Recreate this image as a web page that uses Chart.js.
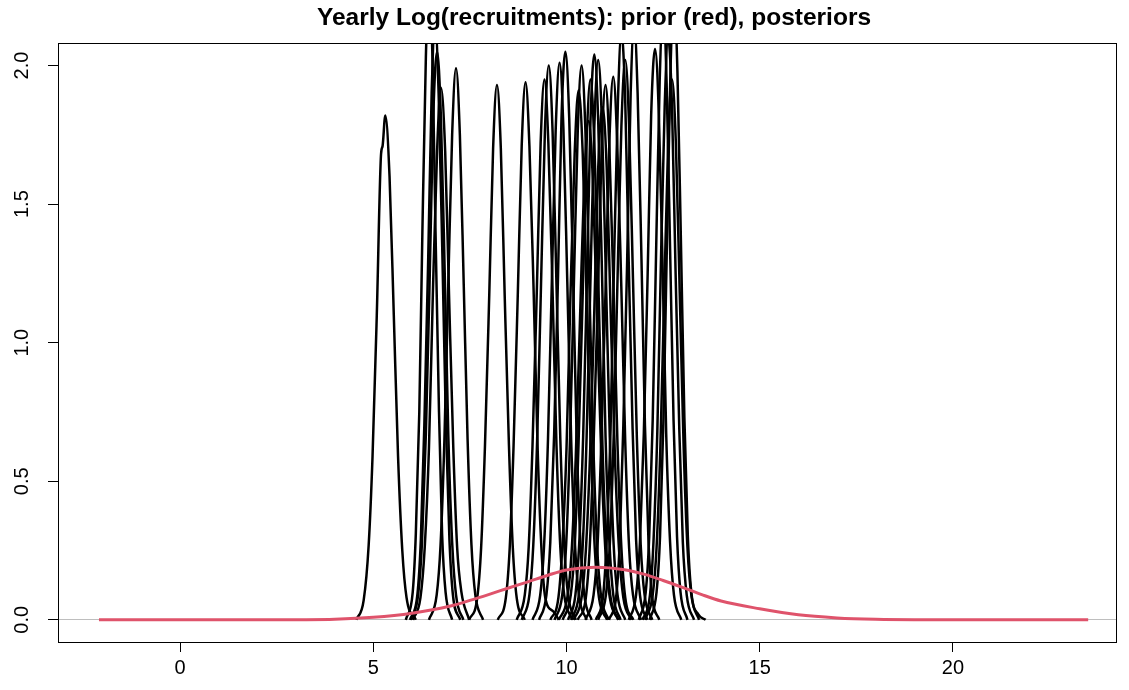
<!DOCTYPE html>
<html>
<head>
<meta charset="utf-8">
<script src="https://cdn.jsdelivr.net/npm/chart.js@4.4.1/dist/chart.umd.min.js"></script>
<style>
  html, body { margin: 0; padding: 0; background: #fff; }
  #wrap { width: 1129px; height: 690px; }
</style>
</head>
<body>
<div id="wrap"><canvas id="grafica" width="1129" height="690"></canvas></div>
<script>
// Prior (red)
const priorX = [-2.1, 0, 2, 3, 4, 5, 6, 7, 7.5, 8, 8.5, 9, 9.5, 10, 10.75, 11.5, 12, 12.5, 13, 13.5, 14, 15, 16, 17, 18, 19, 23.5];
const priorY = [0, 0, 0, 0.0005, 0.002, 0.009, 0.024, 0.05, 0.07, 0.092, 0.115, 0.137, 0.16, 0.18, 0.19, 0.181, 0.165, 0.142, 0.117, 0.091, 0.068, 0.04, 0.018, 0.007, 0.002, 0.0005, 0];

// Posteriors (black), one row per year
const posteriorX = [
  [4.56, 4.75, 4.88, 4.98, 5.09, 5.2, 5.24, 5.31, 5.42, 5.53, 5.64, 5.75, 5.86, 6.1],
  [5.84, 6.02, 6.10, 6.19, 6.27, 6.36, 6.44, 6.53, 6.61, 6.70, 6.78, 6.87, 7.04],
  [5.95, 6.14, 6.23, 6.32, 6.42, 6.51, 6.60, 6.69, 6.79, 6.88, 6.97, 7.06, 7.25],
  [5.97, 6.16, 6.26, 6.36, 6.46, 6.55, 6.65, 6.75, 6.85, 6.94, 7.04, 7.14, 7.33],
  [6.02, 6.22, 6.33, 6.44, 6.54, 6.65, 6.75, 6.86, 6.96, 7.07, 7.17, 7.28, 7.48],
  [6.44, 6.64, 6.74, 6.84, 6.94, 7.04, 7.14, 7.24, 7.34, 7.44, 7.54, 7.64, 7.84],
  [7.48, 7.69, 7.79, 7.89, 8.0, 8.1, 8.2, 8.3, 8.4, 8.51, 8.61, 8.71, 8.92],
  [8.22, 8.43, 8.53, 8.63, 8.74, 8.84, 8.94, 9.04, 9.15, 9.25, 9.35, 9.45, 9.66, 9.8],
  [8.71, 8.92, 9.02, 9.12, 9.23, 9.33, 9.43, 9.53, 9.64, 9.74, 9.84, 9.94, 10.15],
  [8.84, 9.04, 9.14, 9.24, 9.34, 9.44, 9.54, 9.64, 9.74, 9.84, 9.94, 10.04, 10.24],
  [9.12, 9.32, 9.42, 9.52, 9.62, 9.72, 9.82, 9.92, 10.02, 10.12, 10.22, 10.32, 10.52],
  [9.29, 9.48, 9.58, 9.68, 9.78, 9.87, 9.97, 10.07, 10.17, 10.26, 10.36, 10.46, 10.65],
  [9.58, 9.79, 9.89, 10.0, 10.1, 10.21, 10.31, 10.42, 10.52, 10.63, 10.73, 10.84, 11.05],
  [9.69, 9.89, 9.99, 10.09, 10.19, 10.29, 10.39, 10.49, 10.59, 10.69, 10.79, 10.89, 11.09],
  [9.9, 10.11, 10.21, 10.31, 10.42, 10.52, 10.62, 10.72, 10.83, 10.93, 11.03, 11.13, 11.34],
  [10.04, 10.23, 10.33, 10.43, 10.53, 10.62, 10.72, 10.82, 10.92, 11.01, 11.11, 11.21, 11.4],
  [10.12, 10.32, 10.42, 10.52, 10.62, 10.72, 10.82, 10.92, 11.02, 11.12, 11.22, 11.32, 11.52],
  [10.29, 10.5, 10.6, 10.7, 10.81, 10.91, 11.01, 11.11, 11.22, 11.32, 11.42, 11.52, 11.73],
  [10.49, 10.7, 10.8, 10.9, 11.01, 11.11, 11.21, 11.31, 11.42, 11.52, 11.62, 11.72, 11.93],
  [10.76, 10.95, 11.04, 11.14, 11.23, 11.33, 11.42, 11.52, 11.61, 11.71, 11.8, 11.9, 12.09],
  [10.82, 11.02, 11.12, 11.22, 11.32, 11.42, 11.52, 11.62, 11.72, 11.82, 11.92, 12.02, 12.22],
  [11.1, 11.29, 11.38, 11.47, 11.57, 11.66, 11.75, 11.84, 11.94, 12.03, 12.12, 12.21, 12.4],
  [11.61, 11.8, 11.9, 12.0, 12.1, 12.19, 12.29, 12.39, 12.49, 12.58, 12.68, 12.78, 12.97],
  [11.87, 12.05, 12.14, 12.23, 12.32, 12.41, 12.5, 12.59, 12.68, 12.77, 12.86, 12.95, 13.13],
  [11.97, 12.16, 12.25, 12.35, 12.44, 12.54, 12.63, 12.73, 12.82, 12.92, 13.01, 13.11, 13.3],
  [12.15, 12.33, 12.42, 12.51, 12.6, 12.69, 12.78, 12.87, 12.96, 13.05, 13.14, 13.23, 13.41, 13.6],
  [12.03, 12.23, 12.33, 12.43, 12.53, 12.63, 12.73, 12.83, 12.93, 13.03, 13.13, 13.23, 13.43],
  [10.18, 10.39, 10.5, 10.61, 10.72, 10.82, 10.93, 11.04, 11.14, 11.25, 11.36, 11.47, 11.68],
  [9.8, 10.02, 10.13, 10.24, 10.35, 10.46, 10.57, 10.68, 10.79, 10.9, 11.01, 11.12, 11.34]
];
const posteriorY = [
  [0, 0.07, 0.27, 0.59, 1.1, 1.68, 1.71, 1.82, 1.6, 1.1, 0.59, 0.25, 0.08, 0],
  [0, 0.1, 0.31, 0.75, 1.4, 2.03, 2.3, 2.03, 1.4, 0.75, 0.31, 0.1, 0],
  [0, 0.09, 0.29, 0.7, 1.3, 1.9, 2.15, 1.9, 1.3, 0.7, 0.29, 0.09, 0],
  [0, 0.09, 0.28, 0.67, 1.24, 1.81, 2.05, 1.81, 1.24, 0.67, 0.28, 0.09, 0],
  [0, 0.08, 0.26, 0.62, 1.17, 1.69, 1.92, 1.69, 1.17, 0.62, 0.26, 0.1, 0],
  [0, 0.09, 0.27, 0.65, 1.21, 1.75, 1.99, 1.75, 1.21, 0.65, 0.27, 0.09, 0],
  [0, 0.08, 0.26, 0.63, 1.17, 1.7, 1.93, 1.7, 1.17, 0.63, 0.26, 0.08, 0],
  [0, 0.08, 0.26, 0.63, 1.18, 1.71, 1.94, 1.71, 1.18, 0.63, 0.26, 0.08, 0.03, 0],
  [0, 0.09, 0.26, 0.63, 1.18, 1.72, 1.95, 1.72, 1.18, 0.63, 0.26, 0.09, 0],
  [0, 0.09, 0.27, 0.65, 1.21, 1.76, 2.0, 1.76, 1.21, 0.65, 0.27, 0.09, 0],
  [0, 0.09, 0.27, 0.65, 1.22, 1.77, 2.01, 1.77, 1.22, 0.65, 0.27, 0.09, 0],
  [0, 0.09, 0.28, 0.67, 1.24, 1.81, 2.05, 1.81, 1.24, 0.67, 0.28, 0.09, 0],
  [0, 0.08, 0.26, 0.62, 1.16, 1.68, 1.91, 1.68, 1.16, 0.62, 0.26, 0.08, 0],
  [0, 0.09, 0.27, 0.65, 1.21, 1.76, 2.0, 1.76, 1.21, 0.65, 0.27, 0.09, 0],
  [0, 0.09, 0.26, 0.63, 1.18, 1.72, 1.95, 1.72, 1.18, 0.63, 0.26, 0.09, 0],
  [0, 0.09, 0.28, 0.66, 1.24, 1.8, 2.04, 1.8, 1.24, 0.66, 0.28, 0.09, 0],
  [0, 0.09, 0.27, 0.66, 1.23, 1.78, 2.02, 1.78, 1.23, 0.66, 0.27, 0.09, 0],
  [0, 0.08, 0.26, 0.63, 1.17, 1.7, 1.93, 1.7, 1.17, 0.63, 0.26, 0.08, 0],
  [0, 0.09, 0.26, 0.64, 1.19, 1.73, 1.96, 1.73, 1.19, 0.64, 0.26, 0.09, 0],
  [0, 0.09, 0.29, 0.69, 1.29, 1.87, 2.12, 1.87, 1.29, 0.69, 0.29, 0.09, 0],
  [0, 0.09, 0.27, 0.66, 1.23, 1.78, 2.02, 1.78, 1.23, 0.66, 0.27, 0.09, 0],
  [0, 0.09, 0.29, 0.7, 1.3, 1.9, 2.15, 1.9, 1.3, 0.7, 0.29, 0.09, 0],
  [0, 0.09, 0.28, 0.67, 1.25, 1.82, 2.06, 1.82, 1.25, 0.67, 0.28, 0.09, 0],
  [0, 0.1, 0.3, 0.72, 1.34, 1.94, 2.2, 1.94, 1.34, 0.72, 0.3, 0.1, 0],
  [0, 0.09, 0.28, 0.68, 1.27, 1.85, 2.1, 1.85, 1.27, 0.68, 0.28, 0.09, 0],
  [0, 0.1, 0.3, 0.73, 1.37, 1.98, 2.25, 1.98, 1.37, 0.73, 0.3, 0.1, 0.02, 0],
  [0, 0.09, 0.26, 0.63, 1.18, 1.72, 1.95, 1.72, 1.18, 0.63, 0.26, 0.09, 0],
  [0, 0.08, 0.25, 0.6, 1.12, 1.63, 1.85, 1.63, 1.12, 0.6, 0.25, 0.08, 0],
  [0, 0.08, 0.24, 0.59, 1.09, 1.59, 1.8, 1.59, 1.09, 0.59, 0.24, 0.08, 0]
];

// Ejes
const xTickValues = [0, 5, 10, 15, 20];
const xTickLabels = ['0', '5', '10', '15', '20'];
const yTickValues = [0, 0.5, 1, 1.5, 2];
const yTickLabels = ['0.0', '0.5', '1.0', '1.5', '2.0'];

const toPoints = (xs, ys) => xs.map((x, i) => ({ x: x, y: ys[i] }));

const datasets = [{
    data: toPoints(priorX, priorY),
    borderColor: '#DF536B',
    borderWidth: 3
}];
posteriorX.forEach((xs, k) => {
    datasets.push({
        data: toPoints(xs, posteriorY[k]),
        borderColor: '#000000',
        borderWidth: 2.5
    });
});

// Caja alrededor del área de la gráfica y título centrado como en R
const plotBox = {
    id: 'plotBox',
    afterLayout(chart) {
        if (chart.titleBlock) {
            chart.titleBlock.left = 72;
            chart.titleBlock.right = chart.chartArea.right;
        }
    },
    afterDraw(chart) {
        const a = chart.chartArea;
        const ctx = chart.ctx;
        ctx.save();
        ctx.strokeStyle = '#000';
        ctx.lineWidth = 1;
        ctx.strokeRect(Math.round(a.left) + 0.5, Math.round(a.top) + 0.5,
            Math.round(a.right - a.left), Math.round(a.bottom - a.top));
        ctx.restore();
    }
};

Chart.defaults.font.family = '"Liberation Sans", Arial, sans-serif';
Chart.defaults.color = '#000';

new Chart(document.getElementById('grafica').getContext('2d'), {
    type: 'line',
    data: { datasets: datasets },
    options: {
        responsive: false,
        animation: false,
        devicePixelRatio: 1,
        layout: { padding: { right: 13, top: 0, left: 0, bottom: 0 } },
        elements: {
            point: { radius: 0 },
            line: { cubicInterpolationMode: 'monotone', fill: false, borderJoinStyle: 'round' }
        },
        datasets: { line: { clip: 0 } },
        plugins: {
            legend: { display: false },
            tooltip: { enabled: false },
            title: {
                display: true,
                text: 'Yearly Log(recruitments): prior (red), posteriors',
                font: { size: 24.5, weight: 'bold' },
                color: '#000',
                padding: { top: 4, bottom: 10 }
            }
        },
        scales: {
            x: {
                type: 'linear',
                min: -3.16,
                max: 24.22,
                afterBuildTicks: s => { s.ticks = xTickValues.map(v => ({ value: v })); },
                afterFit: s => { s.height = 48; },
                border: { display: false },
                grid: { color: 'rgba(0,0,0,0)', tickColor: '#000', tickLength: 10, drawOnChartArea: false },
                ticks: {
                    font: { size: 20 },
                    padding: 4,
                    maxRotation: 0,
                    callback: (v, i) => xTickLabels[i]
                }
            },
            y: {
                type: 'linear',
                min: -0.08,
                max: 2.08,
                afterBuildTicks: s => { s.ticks = yTickValues.map(v => ({ value: v })); },
                afterFit: s => { s.width = 58; },
                border: { display: false },
                grid: {
                    color: c => (c.tick && c.tick.value === 0) ? '#bebebe' : 'rgba(0,0,0,0)',
                    tickColor: '#000',
                    tickLength: 10,
                    lineWidth: 1
                },
                ticks: {
                    font: { size: 20 },
                    minRotation: 90,
                    maxRotation: 90,
                    crossAlign: 'center',
                    padding: 12,
                    callback: (v, i) => yTickLabels[i]
                }
            }
        }
    },
    plugins: [plotBox]
});
</script>
</body>
</html>
